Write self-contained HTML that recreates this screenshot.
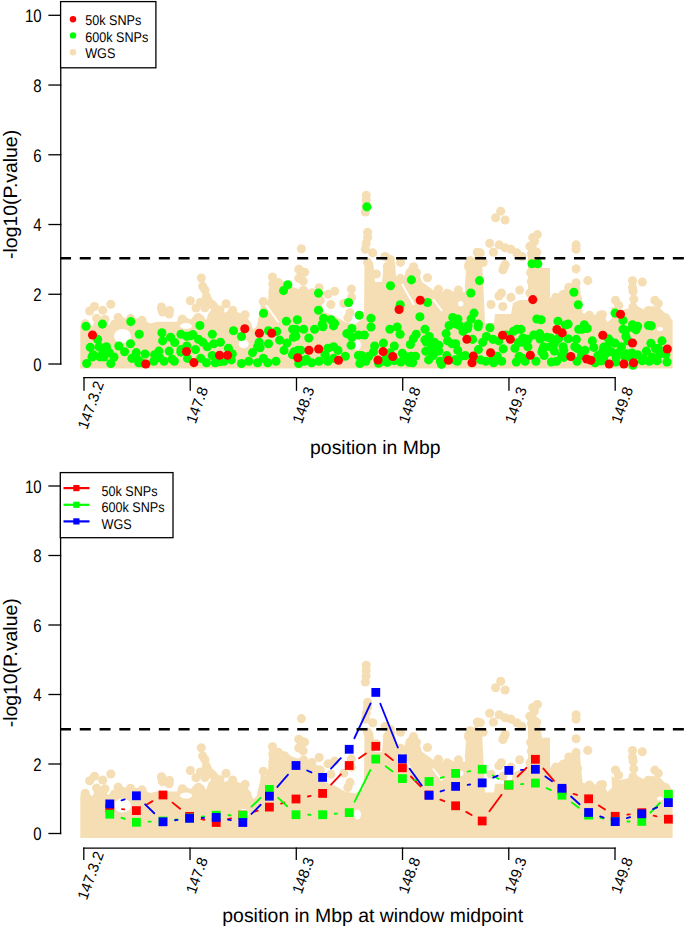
<!DOCTYPE html>
<html><head><meta charset="utf-8"><title>plot</title>
<style>html,body{margin:0;padding:0;background:#fff;width:685px;height:928px;overflow:hidden}svg{display:block} text{text-rendering:geometricPrecision}</style>
</head><body>
<svg width="685" height="928" viewBox="0 0 685 928">
<rect width="685" height="928" fill="#fff"/>
<g id="top-data"><g fill="#f5deb3"><polygon points="80.3,368.5 80.3,325.4 85.5,321.9 92.5,326.6 96,317.3 104.2,317.3 107.7,325.4 112.4,322.5 118.2,315.5 126.4,318.4 132.2,317.3 142.7,319.6 150,323.4 157,321.8 177,321.8 178,318.3 185,317.1 191,319.4 194.4,314.8 199,313.6 203.7,315.9 206,320.6 208.4,313.6 215.4,312.4 224.8,312.4 230,310.1 236.7,311.8 244.9,315.3 250.7,322.3 253,329.3 256.5,327.0 260,311.8 261.2,303.6 265.3,306.5 268.2,298.9 269.4,281.4 272.9,275.6 276.4,280.3 286.9,282.0 291.6,287.3 295,288.0 306,291.0 309,294.0 320,296.0 322,305.0 324,312.0 335,316.0 345,322.0 355,324.0 364,318.0 364.5,262.0 373,262.0 374,270.0 375,282.0 382,282.0 384,264.0 385,262.0 390,260.0 395,262.0 396,276.0 404,278.0 406,270.0 412,264.0 418,270.0 422,282.0 429,287.0 436,292.0 465,292.0 466,270.0 470,262.0 476,255.0 482,262.0 484,300.0 485,323.0 494,323.0 495,314.0 511,314.0 513,303.0 520,300.0 528,300.0 528,255.0 540,255.0 542,268.0 550,268.0 550,298.0 556,294.7 561.5,292.0 566.8,286.8 576,281.5 580,285.5 581.2,300.0 582.6,313.1 587.8,314.4 601,315.0 604,316.0 607.5,322.3 612,318.0 611.5,306.5 620,310.4 630,308.0 635,305.0 645,310.0 652,306.0 660,308.0 666,314.0 672.6,320.0 672.6,368.5"/><circle cx="110.8" cy="304.3" r="4.55"/><circle cx="94.5" cy="306.5" r="4.55"/><circle cx="89.6" cy="311.0" r="4.55"/><circle cx="102.7" cy="310.3" r="4.55"/><circle cx="96.6" cy="318.4" r="4.55"/><circle cx="105.0" cy="319.2" r="4.55"/><circle cx="85.2" cy="323.7" r="4.55"/><circle cx="118.1" cy="317.6" r="4.55"/><circle cx="114.4" cy="324.4" r="4.55"/><circle cx="130.5" cy="318.6" r="4.55"/><circle cx="142.0" cy="320.2" r="4.55"/><circle cx="161.5" cy="307.0" r="4.55"/><circle cx="169.5" cy="310.5" r="4.55"/><circle cx="162.6" cy="312.0" r="4.55"/><circle cx="169.2" cy="314.0" r="4.55"/><circle cx="201.3" cy="278.0" r="4.55"/><circle cx="202.7" cy="286.2" r="4.55"/><circle cx="204.9" cy="289.9" r="4.55"/><circle cx="206.4" cy="296.4" r="4.55"/><circle cx="190.3" cy="300.8" r="4.55"/><circle cx="200.5" cy="302.3" r="4.55"/><circle cx="210.8" cy="303.7" r="4.55"/><circle cx="226.1" cy="303.7" r="4.55"/><circle cx="232.7" cy="310.3" r="4.55"/><circle cx="263.3" cy="301.5" r="4.55"/><circle cx="272.5" cy="277.0" r="4.55"/><circle cx="272.8" cy="284.0" r="4.55"/><circle cx="273.0" cy="292.0" r="4.55"/><circle cx="271.4" cy="305.9" r="4.55"/><circle cx="182.3" cy="319.0" r="4.55"/><circle cx="198.4" cy="317.6" r="4.55"/><circle cx="213.0" cy="314.7" r="4.55"/><circle cx="218.8" cy="313.9" r="4.55"/><circle cx="245.1" cy="314.7" r="4.55"/><circle cx="262.6" cy="320.5" r="4.55"/><circle cx="278.4" cy="282.6" r="4.55"/><circle cx="301.4" cy="248.7" r="4.55"/><circle cx="298.8" cy="269.4" r="4.55"/><circle cx="304.6" cy="272.3" r="4.55"/><circle cx="298.8" cy="278.2" r="4.55"/><circle cx="303.2" cy="281.1" r="4.55"/><circle cx="291.5" cy="291.3" r="4.55"/><circle cx="301.0" cy="292.8" r="4.55"/><circle cx="311.9" cy="292.8" r="4.55"/><circle cx="319.2" cy="287.7" r="4.55"/><circle cx="328.0" cy="294.2" r="4.55"/><circle cx="334.6" cy="291.3" r="4.55"/><circle cx="351.4" cy="289.1" r="4.55"/><circle cx="330.9" cy="304.5" r="4.55"/><circle cx="300.5" cy="271.0" r="4.55"/><circle cx="366.2" cy="195.2" r="4.55"/><circle cx="366.2" cy="200.3" r="4.55"/><circle cx="365.4" cy="212.0" r="4.55"/><circle cx="366.0" cy="206.0" r="4.55"/><circle cx="367.6" cy="232.4" r="4.55"/><circle cx="367.6" cy="237.6" r="4.55"/><circle cx="366.2" cy="243.4" r="4.55"/><circle cx="365.4" cy="249.2" r="4.55"/><circle cx="372.7" cy="252.9" r="4.55"/><circle cx="367.6" cy="262.4" r="4.55"/><circle cx="385.1" cy="256.5" r="4.55"/><circle cx="390.3" cy="259.5" r="4.55"/><circle cx="400.5" cy="262.4" r="4.55"/><circle cx="387.3" cy="266.8" r="4.55"/><circle cx="376.4" cy="274.0" r="4.55"/><circle cx="413.6" cy="266.8" r="4.55"/><circle cx="416.5" cy="272.6" r="4.55"/><circle cx="427.5" cy="277.7" r="4.55"/><circle cx="400.5" cy="278.4" r="4.55"/><circle cx="438.4" cy="289.4" r="4.55"/><circle cx="351.6" cy="297.4" r="4.55"/><circle cx="500.7" cy="211.3" r="4.55"/><circle cx="495.6" cy="217.8" r="4.55"/><circle cx="505.1" cy="220.0" r="4.55"/><circle cx="489.7" cy="243.4" r="4.55"/><circle cx="493.4" cy="252.2" r="4.55"/><circle cx="499.2" cy="244.9" r="4.55"/><circle cx="505.1" cy="247.8" r="4.55"/><circle cx="510.9" cy="249.2" r="4.55"/><circle cx="516.8" cy="252.9" r="4.55"/><circle cx="521.9" cy="256.5" r="4.55"/><circle cx="477.3" cy="252.2" r="4.55"/><circle cx="480.3" cy="252.9" r="4.55"/><circle cx="470.0" cy="260.9" r="4.55"/><circle cx="483.2" cy="262.4" r="4.55"/><circle cx="468.6" cy="265.3" r="4.55"/><circle cx="474.4" cy="271.1" r="4.55"/><circle cx="470.0" cy="278.4" r="4.55"/><circle cx="469.3" cy="285.7" r="4.55"/><circle cx="505.1" cy="264.6" r="4.55"/><circle cx="502.9" cy="269.7" r="4.55"/><circle cx="532.8" cy="237.6" r="4.55"/><circle cx="529.9" cy="246.3" r="4.55"/><circle cx="530.6" cy="272.6" r="4.55"/><circle cx="531.4" cy="281.4" r="4.55"/><circle cx="529.9" cy="293.0" r="4.55"/><circle cx="449.6" cy="294.5" r="4.55"/><circle cx="458.4" cy="290.1" r="4.55"/><circle cx="478.8" cy="290.1" r="4.55"/><circle cx="501.4" cy="293.0" r="4.55"/><circle cx="519.7" cy="290.1" r="4.55"/><circle cx="510.9" cy="297.4" r="4.55"/><circle cx="537.4" cy="234.6" r="4.55"/><circle cx="534.5" cy="241.2" r="4.55"/><circle cx="532.3" cy="247.8" r="4.55"/><circle cx="536.7" cy="252.2" r="4.55"/><circle cx="531.6" cy="253.6" r="4.55"/><circle cx="576.1" cy="244.9" r="4.55"/><circle cx="576.1" cy="249.2" r="4.55"/><circle cx="576.1" cy="268.9" r="4.55"/><circle cx="587.8" cy="280.6" r="4.55"/><circle cx="576.1" cy="282.8" r="4.55"/><circle cx="568.8" cy="287.2" r="4.55"/><circle cx="577.6" cy="298.9" r="4.55"/><circle cx="563.0" cy="294.5" r="4.55"/><circle cx="555.7" cy="297.4" r="4.55"/><circle cx="615.5" cy="300.3" r="4.55"/><circle cx="545.4" cy="272.6" r="4.55"/><circle cx="545.4" cy="278.4" r="4.55"/><circle cx="545.4" cy="287.2" r="4.55"/><circle cx="545.4" cy="300.3" r="4.55"/><circle cx="632.5" cy="280.7" r="4.55"/><circle cx="632.5" cy="287.3" r="4.55"/><circle cx="633.1" cy="291.2" r="4.55"/><circle cx="633.8" cy="299.1" r="4.55"/><circle cx="642.3" cy="282.0" r="4.55"/><circle cx="654.8" cy="300.4" r="4.55"/><circle cx="633.0" cy="307.0" r="4.55"/><circle cx="618.6" cy="305.5" r="4.55"/><circle cx="658.3" cy="303.6" r="4.55"/><circle cx="602.5" cy="314.8" r="4.55"/><circle cx="648.4" cy="310.5" r="4.55"/><circle cx="665.8" cy="317.9" r="4.55"/><circle cx="589.4" cy="315.3" r="4.55"/><circle cx="600.4" cy="315.3" r="4.55"/><circle cx="213.1" cy="305.4" r="4.55"/><circle cx="204.9" cy="307.8" r="4.55"/><circle cx="161.7" cy="308.9" r="4.55"/><circle cx="303.5" cy="290.1" r="4.55"/><circle cx="320.3" cy="300.4" r="4.55"/><circle cx="343.8" cy="303.5" r="4.55"/><circle cx="350.0" cy="312.7" r="4.55"/><circle cx="347.9" cy="317.8" r="4.55"/><circle cx="387.5" cy="269.9" r="4.55"/><circle cx="447.1" cy="293.2" r="4.55"/><circle cx="471.3" cy="263.1" r="4.55"/><circle cx="468.7" cy="267.1" r="4.55"/><circle cx="470.0" cy="281.5" r="4.55"/><circle cx="504.1" cy="267.1" r="4.55"/><circle cx="498.9" cy="296.0" r="4.55"/><circle cx="491.0" cy="304.5" r="4.55"/><circle cx="502.8" cy="306.5" r="4.55"/><circle cx="208.0" cy="300.0" r="4.55"/><circle cx="215.0" cy="308.0" r="4.55"/><circle cx="196.0" cy="308.0" r="4.55"/><circle cx="220.0" cy="310.0" r="4.55"/></g><line x1="266" y1="305" x2="278.5" y2="322.5" stroke="#fff" stroke-width="1.8"/><line x1="402" y1="284.0" x2="414" y2="305.0" stroke="#fff" stroke-width="2"/><line x1="433" y1="299.0" x2="442" y2="311.0" stroke="#fff" stroke-width="2"/><g fill="#fff"><ellipse cx="122.5" cy="336.0" rx="8.5" ry="7"/><ellipse cx="186" cy="326.0" rx="6" ry="3"/><ellipse cx="243.7" cy="343.8" rx="5" ry="4.4"/><ellipse cx="357.5" cy="345.0" rx="3.5" ry="5"/><ellipse cx="660" cy="329.0" rx="3" ry="2"/><ellipse cx="460.7" cy="303.7" rx="2.7" ry="2.7"/></g>
<g fill="#00ff00"><circle cx="366.9" cy="206.9" r="4.55"/><circle cx="390.5" cy="285.7" r="4.55"/><circle cx="411.4" cy="279.9" r="4.55"/><circle cx="348.6" cy="302.5" r="4.55"/><circle cx="400.2" cy="304.7" r="4.55"/><circle cx="427.5" cy="302.5" r="4.55"/><circle cx="479.5" cy="280.6" r="4.55"/><circle cx="470.8" cy="293.0" r="4.55"/><circle cx="532.0" cy="263.8" r="4.55"/><circle cx="537.8" cy="263.8" r="4.55"/><circle cx="573.9" cy="292.3" r="4.55"/><circle cx="578.3" cy="304.7" r="4.55"/><circle cx="287.8" cy="284.7" r="4.55"/><circle cx="283.5" cy="290.6" r="4.55"/><circle cx="318.5" cy="293.1" r="4.55"/><circle cx="318.5" cy="310.3" r="4.55"/><circle cx="263.5" cy="313.2" r="4.55"/><circle cx="286.4" cy="321.2" r="4.55"/><circle cx="297.3" cy="319.8" r="4.55"/><circle cx="323.6" cy="318.3" r="4.55"/><circle cx="330.9" cy="319.8" r="4.55"/><circle cx="334.6" cy="323.4" r="4.55"/><circle cx="322.2" cy="324.2" r="4.55"/><circle cx="86.0" cy="326.3" r="4.55"/><circle cx="102.4" cy="324.1" r="4.55"/><circle cx="130.8" cy="321.6" r="4.55"/><circle cx="139.2" cy="334.3" r="4.55"/><circle cx="161.9" cy="332.8" r="4.55"/><circle cx="170.6" cy="337.2" r="4.55"/><circle cx="162.6" cy="340.9" r="4.55"/><circle cx="97.6" cy="339.4" r="4.55"/><circle cx="90.3" cy="347.4" r="4.55"/><circle cx="99.1" cy="346.7" r="4.55"/><circle cx="106.4" cy="346.7" r="4.55"/><circle cx="109.3" cy="352.6" r="4.55"/><circle cx="93.2" cy="354.7" r="4.55"/><circle cx="99.8" cy="356.9" r="4.55"/><circle cx="86.7" cy="363.5" r="4.55"/><circle cx="110.8" cy="363.5" r="4.55"/><circle cx="104.0" cy="357.0" r="4.55"/><circle cx="118.8" cy="346.0" r="4.55"/><circle cx="124.6" cy="351.8" r="4.55"/><circle cx="130.5" cy="343.8" r="4.55"/><circle cx="131.9" cy="358.4" r="4.55"/><circle cx="137.8" cy="359.9" r="4.55"/><circle cx="136.3" cy="352.6" r="4.55"/><circle cx="145.1" cy="354.0" r="4.55"/><circle cx="141.4" cy="362.8" r="4.55"/><circle cx="154.6" cy="354.7" r="4.55"/><circle cx="158.9" cy="351.1" r="4.55"/><circle cx="153.8" cy="361.3" r="4.55"/><circle cx="164.1" cy="361.3" r="4.55"/><circle cx="169.2" cy="351.1" r="4.55"/><circle cx="172.1" cy="359.1" r="4.55"/><circle cx="159.7" cy="357.7" r="4.55"/><circle cx="199.9" cy="325.5" r="4.55"/><circle cx="212.3" cy="334.3" r="4.55"/><circle cx="233.5" cy="330.7" r="4.55"/><circle cx="241.5" cy="336.5" r="4.55"/><circle cx="259.1" cy="342.3" r="4.55"/><circle cx="257.6" cy="346.7" r="4.55"/><circle cx="252.5" cy="352.6" r="4.55"/><circle cx="268.5" cy="343.8" r="4.55"/><circle cx="181.0" cy="334.3" r="4.55"/><circle cx="190.4" cy="335.8" r="4.55"/><circle cx="198.5" cy="339.4" r="4.55"/><circle cx="202.8" cy="342.3" r="4.55"/><circle cx="207.2" cy="346.7" r="4.55"/><circle cx="213.8" cy="343.8" r="4.55"/><circle cx="220.4" cy="342.3" r="4.55"/><circle cx="181.0" cy="349.6" r="4.55"/><circle cx="195.5" cy="349.6" r="4.55"/><circle cx="174.4" cy="361.3" r="4.55"/><circle cx="187.5" cy="358.4" r="4.55"/><circle cx="200.7" cy="358.4" r="4.55"/><circle cx="206.5" cy="362.8" r="4.55"/><circle cx="212.3" cy="355.5" r="4.55"/><circle cx="215.3" cy="362.8" r="4.55"/><circle cx="228.4" cy="348.2" r="4.55"/><circle cx="231.3" cy="359.9" r="4.55"/><circle cx="224.0" cy="361.3" r="4.55"/><circle cx="241.5" cy="363.5" r="4.55"/><circle cx="248.8" cy="361.3" r="4.55"/><circle cx="257.6" cy="362.8" r="4.55"/><circle cx="263.4" cy="358.4" r="4.55"/><circle cx="267.8" cy="362.8" r="4.55"/><circle cx="268.5" cy="330.7" r="4.55"/><circle cx="359.2" cy="315.3" r="4.55"/><circle cx="314.6" cy="329.2" r="4.55"/><circle cx="303.7" cy="329.2" r="4.55"/><circle cx="292.7" cy="329.2" r="4.55"/><circle cx="276.7" cy="331.4" r="4.55"/><circle cx="293.5" cy="337.2" r="4.55"/><circle cx="308.8" cy="338.0" r="4.55"/><circle cx="279.6" cy="340.1" r="4.55"/><circle cx="286.9" cy="343.1" r="4.55"/><circle cx="284.0" cy="350.4" r="4.55"/><circle cx="294.2" cy="351.8" r="4.55"/><circle cx="300.8" cy="350.4" r="4.55"/><circle cx="346.8" cy="333.6" r="4.55"/><circle cx="351.9" cy="328.5" r="4.55"/><circle cx="358.4" cy="335.0" r="4.55"/><circle cx="351.1" cy="345.3" r="4.55"/><circle cx="327.8" cy="348.2" r="4.55"/><circle cx="333.6" cy="346.7" r="4.55"/><circle cx="338.0" cy="350.4" r="4.55"/><circle cx="324.9" cy="354.7" r="4.55"/><circle cx="345.3" cy="356.2" r="4.55"/><circle cx="358.4" cy="355.5" r="4.55"/><circle cx="276.0" cy="361.3" r="4.55"/><circle cx="301.5" cy="360.6" r="4.55"/><circle cx="311.7" cy="362.8" r="4.55"/><circle cx="319.0" cy="361.3" r="4.55"/><circle cx="327.8" cy="361.3" r="4.55"/><circle cx="333.6" cy="358.4" r="4.55"/><circle cx="359.9" cy="363.5" r="4.55"/><circle cx="363.5" cy="359.9" r="4.55"/><circle cx="304.4" cy="361.3" r="4.55"/><circle cx="419.9" cy="316.8" r="4.55"/><circle cx="371.0" cy="318.2" r="4.55"/><circle cx="371.0" cy="327.0" r="4.55"/><circle cx="364.4" cy="335.0" r="4.55"/><circle cx="389.9" cy="329.2" r="4.55"/><circle cx="397.2" cy="327.0" r="4.55"/><circle cx="400.1" cy="334.3" r="4.55"/><circle cx="425.0" cy="329.2" r="4.55"/><circle cx="416.2" cy="334.3" r="4.55"/><circle cx="413.3" cy="338.7" r="4.55"/><circle cx="410.4" cy="344.5" r="4.55"/><circle cx="429.3" cy="336.5" r="4.55"/><circle cx="426.4" cy="342.3" r="4.55"/><circle cx="452.7" cy="317.5" r="4.55"/><circle cx="449.1" cy="325.5" r="4.55"/><circle cx="456.4" cy="324.1" r="4.55"/><circle cx="446.1" cy="333.6" r="4.55"/><circle cx="447.6" cy="340.9" r="4.55"/><circle cx="452.0" cy="343.8" r="4.55"/><circle cx="438.8" cy="345.3" r="4.55"/><circle cx="434.5" cy="342.3" r="4.55"/><circle cx="383.4" cy="343.1" r="4.55"/><circle cx="374.6" cy="346.0" r="4.55"/><circle cx="394.3" cy="346.0" r="4.55"/><circle cx="457.8" cy="350.4" r="4.55"/><circle cx="361.5" cy="355.5" r="4.55"/><circle cx="368.8" cy="356.2" r="4.55"/><circle cx="386.3" cy="354.7" r="4.55"/><circle cx="402.3" cy="353.3" r="4.55"/><circle cx="415.5" cy="356.2" r="4.55"/><circle cx="409.6" cy="359.1" r="4.55"/><circle cx="400.9" cy="362.0" r="4.55"/><circle cx="365.8" cy="361.3" r="4.55"/><circle cx="383.4" cy="361.3" r="4.55"/><circle cx="428.6" cy="359.9" r="4.55"/><circle cx="433.0" cy="355.5" r="4.55"/><circle cx="440.3" cy="361.3" r="4.55"/><circle cx="438.8" cy="351.1" r="4.55"/><circle cx="454.9" cy="359.9" r="4.55"/><circle cx="430.1" cy="350.4" r="4.55"/><circle cx="474.0" cy="313.1" r="4.55"/><circle cx="471.1" cy="319.0" r="4.55"/><circle cx="457.9" cy="319.0" r="4.55"/><circle cx="459.4" cy="325.5" r="4.55"/><circle cx="468.1" cy="325.5" r="4.55"/><circle cx="478.4" cy="324.1" r="4.55"/><circle cx="463.0" cy="331.4" r="4.55"/><circle cx="490.0" cy="327.7" r="4.55"/><circle cx="472.5" cy="339.4" r="4.55"/><circle cx="486.4" cy="336.5" r="4.55"/><circle cx="482.7" cy="342.3" r="4.55"/><circle cx="493.0" cy="339.4" r="4.55"/><circle cx="498.8" cy="340.9" r="4.55"/><circle cx="536.8" cy="319.0" r="4.55"/><circle cx="541.1" cy="319.7" r="4.55"/><circle cx="517.0" cy="329.2" r="4.55"/><circle cx="513.4" cy="331.4" r="4.55"/><circle cx="506.1" cy="335.0" r="4.55"/><circle cx="533.8" cy="335.0" r="4.55"/><circle cx="539.7" cy="333.6" r="4.55"/><circle cx="547.0" cy="337.2" r="4.55"/><circle cx="528.0" cy="339.4" r="4.55"/><circle cx="522.2" cy="342.3" r="4.55"/><circle cx="514.9" cy="348.2" r="4.55"/><circle cx="503.2" cy="348.9" r="4.55"/><circle cx="478.4" cy="349.6" r="4.55"/><circle cx="542.6" cy="349.6" r="4.55"/><circle cx="549.9" cy="346.7" r="4.55"/><circle cx="460.8" cy="356.2" r="4.55"/><circle cx="455.7" cy="343.8" r="4.55"/><circle cx="480.5" cy="359.9" r="4.55"/><circle cx="493.0" cy="358.4" r="4.55"/><circle cx="497.3" cy="356.2" r="4.55"/><circle cx="501.7" cy="361.3" r="4.55"/><circle cx="493.7" cy="362.8" r="4.55"/><circle cx="516.3" cy="362.0" r="4.55"/><circle cx="519.2" cy="356.2" r="4.55"/><circle cx="525.1" cy="361.3" r="4.55"/><circle cx="536.0" cy="361.3" r="4.55"/><circle cx="544.1" cy="355.5" r="4.55"/><circle cx="551.4" cy="362.0" r="4.55"/><circle cx="457.2" cy="361.3" r="4.55"/><circle cx="485.7" cy="361.3" r="4.55"/><circle cx="615.0" cy="313.1" r="4.55"/><circle cx="623.0" cy="320.4" r="4.55"/><circle cx="558.0" cy="321.2" r="4.55"/><circle cx="568.2" cy="324.1" r="4.55"/><circle cx="584.3" cy="324.8" r="4.55"/><circle cx="582.1" cy="329.2" r="4.55"/><circle cx="587.2" cy="328.5" r="4.55"/><circle cx="623.0" cy="329.2" r="4.55"/><circle cx="632.5" cy="324.8" r="4.55"/><circle cx="637.6" cy="326.3" r="4.55"/><circle cx="636.1" cy="329.9" r="4.55"/><circle cx="648.5" cy="325.5" r="4.55"/><circle cx="625.9" cy="336.5" r="4.55"/><circle cx="550.7" cy="338.0" r="4.55"/><circle cx="558.8" cy="338.0" r="4.55"/><circle cx="568.2" cy="338.7" r="4.55"/><circle cx="576.3" cy="339.4" r="4.55"/><circle cx="592.3" cy="340.9" r="4.55"/><circle cx="608.4" cy="338.7" r="4.55"/><circle cx="615.0" cy="343.1" r="4.55"/><circle cx="621.5" cy="346.7" r="4.55"/><circle cx="554.4" cy="343.8" r="4.55"/><circle cx="563.1" cy="346.7" r="4.55"/><circle cx="574.8" cy="346.7" r="4.55"/><circle cx="585.0" cy="350.4" r="4.55"/><circle cx="593.8" cy="347.4" r="4.55"/><circle cx="606.9" cy="346.7" r="4.55"/><circle cx="602.6" cy="351.8" r="4.55"/><circle cx="611.3" cy="351.8" r="4.55"/><circle cx="618.6" cy="352.6" r="4.55"/><circle cx="554.4" cy="351.1" r="4.55"/><circle cx="561.7" cy="355.5" r="4.55"/><circle cx="556.6" cy="361.3" r="4.55"/><circle cx="577.0" cy="361.3" r="4.55"/><circle cx="598.2" cy="359.9" r="4.55"/><circle cx="615.7" cy="362.0" r="4.55"/><circle cx="627.4" cy="356.9" r="4.55"/><circle cx="637.6" cy="354.7" r="4.55"/><circle cx="643.4" cy="358.4" r="4.55"/><circle cx="646.4" cy="351.1" r="4.55"/><circle cx="649.3" cy="361.3" r="4.55"/><circle cx="581.4" cy="355.5" r="4.55"/><circle cx="627.9" cy="340.9" r="4.55"/><circle cx="609.9" cy="340.9" r="4.55"/><circle cx="650.9" cy="343.3" r="4.55"/><circle cx="662.0" cy="340.9" r="4.55"/><circle cx="658.3" cy="348.3" r="4.55"/><circle cx="665.8" cy="354.5" r="4.55"/><circle cx="603.7" cy="347.1" r="4.55"/><circle cx="603.7" cy="359.5" r="4.55"/><circle cx="616.1" cy="357.0" r="4.55"/><circle cx="624.8" cy="357.6" r="4.55"/><circle cx="652.1" cy="357.0" r="4.55"/><circle cx="667.0" cy="362.0" r="4.55"/><circle cx="642.2" cy="360.7" r="4.55"/><circle cx="657.1" cy="360.7" r="4.55"/><circle cx="373.4" cy="351.9" r="4.55"/><circle cx="378.6" cy="363.3" r="4.55"/><circle cx="387.4" cy="362.4" r="4.55"/><circle cx="394.4" cy="360.6" r="4.55"/><circle cx="404.0" cy="355.4" r="4.55"/><circle cx="411.0" cy="356.3" r="4.55"/><circle cx="409.3" cy="362.4" r="4.55"/><circle cx="390.0" cy="352.8" r="4.55"/><circle cx="424.9" cy="339.9" r="4.55"/><circle cx="425.8" cy="351.3" r="4.55"/><circle cx="432.8" cy="346.9" r="4.55"/><circle cx="412.6" cy="362.7" r="4.55"/><circle cx="441.5" cy="364.4" r="4.55"/><circle cx="446.8" cy="355.6" r="4.55"/><circle cx="467.6" cy="328.5" r="4.55"/><circle cx="478.1" cy="326.8" r="4.55"/><circle cx="518.4" cy="342.5" r="4.55"/><circle cx="522.8" cy="338.1" r="4.55"/><circle cx="465.4" cy="355.6" r="4.55"/><circle cx="520.9" cy="329.4" r="4.55"/><circle cx="525.3" cy="339.0" r="4.55"/><circle cx="540.1" cy="339.0" r="4.55"/><circle cx="527.9" cy="346.9" r="4.55"/><circle cx="543.6" cy="346.9" r="4.55"/><circle cx="541.9" cy="352.1" r="4.55"/><circle cx="556.8" cy="339.9" r="4.55"/><circle cx="563.8" cy="350.4" r="4.55"/><circle cx="563.8" cy="357.4" r="4.55"/><circle cx="522.6" cy="358.3" r="4.55"/><circle cx="565.5" cy="325.0" r="4.55"/><circle cx="578.7" cy="329.4" r="4.55"/><circle cx="632.8" cy="327.6" r="4.55"/><circle cx="577.6" cy="348.6" r="4.55"/><circle cx="597.8" cy="355.6" r="4.55"/><circle cx="605.6" cy="353.9" r="4.55"/><circle cx="626.7" cy="353.9" r="4.55"/><circle cx="631.9" cy="353.0" r="4.55"/><circle cx="595.1" cy="362.7" r="4.55"/><circle cx="601.3" cy="360.9" r="4.55"/><circle cx="651.3" cy="325.9" r="4.55"/><circle cx="625.9" cy="330.3" r="4.55"/><circle cx="655.6" cy="348.6" r="4.55"/><circle cx="630.3" cy="356.5" r="4.55"/><circle cx="660.0" cy="353.9" r="4.55"/><circle cx="632.9" cy="365.3" r="4.55"/><circle cx="323.0" cy="326.8" r="4.55"/><circle cx="333.5" cy="325.9" r="4.55"/><circle cx="295.9" cy="329.4" r="4.55"/><circle cx="295.9" cy="336.4" r="4.55"/><circle cx="351.9" cy="337.3" r="4.55"/><circle cx="306.4" cy="359.2" r="4.55"/><circle cx="260.1" cy="347.8" r="4.55"/><circle cx="292.5" cy="354.8" r="4.55"/><circle cx="297.8" cy="350.4" r="4.55"/><circle cx="298.7" cy="363.5" r="4.55"/><circle cx="186.8" cy="336.4" r="4.55"/><circle cx="192.9" cy="334.6" r="4.55"/><circle cx="186.8" cy="346.0" r="4.55"/><circle cx="232.3" cy="353.9" r="4.55"/><circle cx="220.0" cy="361.8" r="4.55"/><circle cx="174.7" cy="342.5" r="4.55"/><circle cx="180.8" cy="352.1" r="4.55"/><circle cx="138.8" cy="362.7" r="4.55"/><circle cx="103.0" cy="352.0" r="4.55"/><circle cx="92.0" cy="357.0" r="4.55"/><circle cx="114.0" cy="357.0" r="4.55"/></g><g fill="#ff0000"><circle cx="420.2" cy="300.3" r="4.55"/><circle cx="532.8" cy="299.6" r="4.55"/><circle cx="399.1" cy="309.5" r="4.55"/><circle cx="620.5" cy="314.3" r="4.55"/><circle cx="92.5" cy="335.0" r="4.55"/><circle cx="145.8" cy="364.0" r="4.55"/><circle cx="244.8" cy="328.8" r="4.55"/><circle cx="259.4" cy="333.3" r="4.55"/><circle cx="271.7" cy="333.3" r="4.55"/><circle cx="186.5" cy="351.5" r="4.55"/><circle cx="193.9" cy="362.6" r="4.55"/><circle cx="219.6" cy="355.3" r="4.55"/><circle cx="227.6" cy="355.3" r="4.55"/><circle cx="297.8" cy="357.7" r="4.55"/><circle cx="309.0" cy="350.2" r="4.55"/><circle cx="318.7" cy="349.0" r="4.55"/><circle cx="338.5" cy="360.3" r="4.55"/><circle cx="383.1" cy="351.6" r="4.55"/><circle cx="392.8" cy="356.5" r="4.55"/><circle cx="378.0" cy="360.0" r="4.55"/><circle cx="448.4" cy="360.2" r="4.55"/><circle cx="466.9" cy="339.2" r="4.55"/><circle cx="502.6" cy="335.3" r="4.55"/><circle cx="510.3" cy="339.2" r="4.55"/><circle cx="490.6" cy="352.7" r="4.55"/><circle cx="473.3" cy="356.1" r="4.55"/><circle cx="472.0" cy="362.7" r="4.55"/><circle cx="530.3" cy="355.2" r="4.55"/><circle cx="556.9" cy="329.5" r="4.55"/><circle cx="562.2" cy="332.9" r="4.55"/><circle cx="602.8" cy="335.3" r="4.55"/><circle cx="632.5" cy="343.0" r="4.55"/><circle cx="570.8" cy="356.5" r="4.55"/><circle cx="586.7" cy="359.0" r="4.55"/><circle cx="590.9" cy="360.3" r="4.55"/><circle cx="609.2" cy="364.0" r="4.55"/><circle cx="623.9" cy="364.0" r="4.55"/><circle cx="633.6" cy="362.7" r="4.55"/><circle cx="667.3" cy="349.0" r="4.55"/></g></g>
<g id="bot-data"><g fill="#f5deb3"><polygon points="80.3,838.0 80.3,795.0 85.5,791.5 92.5,796.2 96,787.0 104.2,787.0 107.7,795.0 112.4,792.1 118.2,785.2 126.4,788.1 132.2,787.0 142.7,789.3 150,793.0 157,791.4 177,791.4 178,788.0 185,786.8 191,789.1 194.4,784.5 199,783.3 203.7,785.6 206,790.2 208.4,783.3 215.4,782.1 224.8,782.1 230,779.8 236.7,781.5 244.9,785.0 250.7,791.9 253,798.9 256.5,796.6 260,781.5 261.2,773.3 265.3,776.2 268.2,768.6 269.4,751.2 272.9,745.4 276.4,750.1 286.9,751.8 291.6,757.1 295,757.8 306,760.8 309,763.7 320,765.7 322,774.7 324,781.7 335,785.7 345,791.6 355,793.6 364,787.7 364.5,731.9 373,731.9 374,739.8 375,751.8 382,751.8 384,733.8 385,731.9 390,729.9 395,731.9 396,745.8 404,747.8 406,739.8 412,733.8 418,739.8 422,751.8 429,756.8 436,761.7 465,761.7 466,739.8 470,731.9 476,724.9 482,731.9 484,769.7 485,792.6 494,792.6 495,783.7 511,783.7 513,772.7 520,769.7 528,769.7 528,724.9 540,724.9 542,737.8 550,737.8 550,767.7 556,764.4 561.5,761.7 566.8,756.6 576,751.3 580,755.3 581.2,769.7 582.6,782.8 587.8,784.1 601,784.7 604,785.7 607.5,791.9 612,787.7 611.5,776.2 620,780.1 630,777.7 635,774.7 645,779.7 652,775.7 660,777.7 666,783.7 672.6,789.7 672.6,838.0"/><circle cx="110.8" cy="774.0" r="4.55"/><circle cx="94.5" cy="776.2" r="4.55"/><circle cx="89.6" cy="780.7" r="4.55"/><circle cx="102.7" cy="780.0" r="4.55"/><circle cx="96.6" cy="788.1" r="4.55"/><circle cx="105.0" cy="788.9" r="4.55"/><circle cx="85.2" cy="793.3" r="4.55"/><circle cx="118.1" cy="787.3" r="4.55"/><circle cx="114.4" cy="794.0" r="4.55"/><circle cx="130.5" cy="788.3" r="4.55"/><circle cx="142.0" cy="789.9" r="4.55"/><circle cx="161.5" cy="776.7" r="4.55"/><circle cx="169.5" cy="780.2" r="4.55"/><circle cx="162.6" cy="781.7" r="4.55"/><circle cx="169.2" cy="783.7" r="4.55"/><circle cx="201.3" cy="747.8" r="4.55"/><circle cx="202.7" cy="756.0" r="4.55"/><circle cx="204.9" cy="759.7" r="4.55"/><circle cx="206.4" cy="766.1" r="4.55"/><circle cx="190.3" cy="770.5" r="4.55"/><circle cx="200.5" cy="772.0" r="4.55"/><circle cx="210.8" cy="773.4" r="4.55"/><circle cx="226.1" cy="773.4" r="4.55"/><circle cx="232.7" cy="780.0" r="4.55"/><circle cx="263.3" cy="771.2" r="4.55"/><circle cx="272.5" cy="746.8" r="4.55"/><circle cx="272.8" cy="753.8" r="4.55"/><circle cx="273.0" cy="761.7" r="4.55"/><circle cx="271.4" cy="775.6" r="4.55"/><circle cx="182.3" cy="788.7" r="4.55"/><circle cx="198.4" cy="787.3" r="4.55"/><circle cx="213.0" cy="784.4" r="4.55"/><circle cx="218.8" cy="783.6" r="4.55"/><circle cx="245.1" cy="784.4" r="4.55"/><circle cx="262.6" cy="790.1" r="4.55"/><circle cx="278.4" cy="752.4" r="4.55"/><circle cx="301.4" cy="718.6" r="4.55"/><circle cx="298.8" cy="739.2" r="4.55"/><circle cx="304.6" cy="742.1" r="4.55"/><circle cx="298.8" cy="748.0" r="4.55"/><circle cx="303.2" cy="750.9" r="4.55"/><circle cx="291.5" cy="761.1" r="4.55"/><circle cx="301.0" cy="762.5" r="4.55"/><circle cx="311.9" cy="762.5" r="4.55"/><circle cx="319.2" cy="757.5" r="4.55"/><circle cx="328.0" cy="763.9" r="4.55"/><circle cx="334.6" cy="761.1" r="4.55"/><circle cx="351.4" cy="758.9" r="4.55"/><circle cx="330.9" cy="774.2" r="4.55"/><circle cx="300.5" cy="740.8" r="4.55"/><circle cx="366.2" cy="665.3" r="4.55"/><circle cx="366.2" cy="670.4" r="4.55"/><circle cx="365.4" cy="682.0" r="4.55"/><circle cx="366.0" cy="676.0" r="4.55"/><circle cx="367.6" cy="702.4" r="4.55"/><circle cx="367.6" cy="707.5" r="4.55"/><circle cx="366.2" cy="713.3" r="4.55"/><circle cx="365.4" cy="719.1" r="4.55"/><circle cx="372.7" cy="722.8" r="4.55"/><circle cx="367.6" cy="732.2" r="4.55"/><circle cx="385.1" cy="726.4" r="4.55"/><circle cx="390.3" cy="729.4" r="4.55"/><circle cx="400.5" cy="732.2" r="4.55"/><circle cx="387.3" cy="736.6" r="4.55"/><circle cx="376.4" cy="743.8" r="4.55"/><circle cx="413.6" cy="736.6" r="4.55"/><circle cx="416.5" cy="742.4" r="4.55"/><circle cx="427.5" cy="747.5" r="4.55"/><circle cx="400.5" cy="748.2" r="4.55"/><circle cx="438.4" cy="759.2" r="4.55"/><circle cx="351.6" cy="767.1" r="4.55"/><circle cx="500.7" cy="681.3" r="4.55"/><circle cx="495.6" cy="687.8" r="4.55"/><circle cx="505.1" cy="690.0" r="4.55"/><circle cx="489.7" cy="713.3" r="4.55"/><circle cx="493.4" cy="722.1" r="4.55"/><circle cx="499.2" cy="714.8" r="4.55"/><circle cx="505.1" cy="717.7" r="4.55"/><circle cx="510.9" cy="719.1" r="4.55"/><circle cx="516.8" cy="722.8" r="4.55"/><circle cx="521.9" cy="726.4" r="4.55"/><circle cx="477.3" cy="722.1" r="4.55"/><circle cx="480.3" cy="722.8" r="4.55"/><circle cx="470.0" cy="730.8" r="4.55"/><circle cx="483.2" cy="732.2" r="4.55"/><circle cx="468.6" cy="735.1" r="4.55"/><circle cx="474.4" cy="740.9" r="4.55"/><circle cx="470.0" cy="748.2" r="4.55"/><circle cx="469.3" cy="755.5" r="4.55"/><circle cx="505.1" cy="734.4" r="4.55"/><circle cx="502.9" cy="739.5" r="4.55"/><circle cx="532.8" cy="707.5" r="4.55"/><circle cx="529.9" cy="716.2" r="4.55"/><circle cx="530.6" cy="742.4" r="4.55"/><circle cx="531.4" cy="751.2" r="4.55"/><circle cx="529.9" cy="762.7" r="4.55"/><circle cx="449.6" cy="764.2" r="4.55"/><circle cx="458.4" cy="759.9" r="4.55"/><circle cx="478.8" cy="759.9" r="4.55"/><circle cx="501.4" cy="762.7" r="4.55"/><circle cx="519.7" cy="759.9" r="4.55"/><circle cx="510.9" cy="767.1" r="4.55"/><circle cx="537.4" cy="704.5" r="4.55"/><circle cx="534.5" cy="711.1" r="4.55"/><circle cx="532.3" cy="717.7" r="4.55"/><circle cx="536.7" cy="722.1" r="4.55"/><circle cx="531.6" cy="723.5" r="4.55"/><circle cx="576.1" cy="714.8" r="4.55"/><circle cx="576.1" cy="719.1" r="4.55"/><circle cx="576.1" cy="738.7" r="4.55"/><circle cx="587.8" cy="750.4" r="4.55"/><circle cx="576.1" cy="752.6" r="4.55"/><circle cx="568.8" cy="757.0" r="4.55"/><circle cx="577.6" cy="768.6" r="4.55"/><circle cx="563.0" cy="764.2" r="4.55"/><circle cx="555.7" cy="767.1" r="4.55"/><circle cx="615.5" cy="770.0" r="4.55"/><circle cx="545.4" cy="742.4" r="4.55"/><circle cx="545.4" cy="748.2" r="4.55"/><circle cx="545.4" cy="757.0" r="4.55"/><circle cx="545.4" cy="770.0" r="4.55"/><circle cx="632.5" cy="750.5" r="4.55"/><circle cx="632.5" cy="757.1" r="4.55"/><circle cx="633.1" cy="761.0" r="4.55"/><circle cx="633.8" cy="768.8" r="4.55"/><circle cx="642.3" cy="751.8" r="4.55"/><circle cx="654.8" cy="770.1" r="4.55"/><circle cx="633.0" cy="776.7" r="4.55"/><circle cx="618.6" cy="775.2" r="4.55"/><circle cx="658.3" cy="773.3" r="4.55"/><circle cx="602.5" cy="784.5" r="4.55"/><circle cx="648.4" cy="780.2" r="4.55"/><circle cx="665.8" cy="787.6" r="4.55"/><circle cx="589.4" cy="785.0" r="4.55"/><circle cx="600.4" cy="785.0" r="4.55"/><circle cx="213.1" cy="775.1" r="4.55"/><circle cx="204.9" cy="777.5" r="4.55"/><circle cx="161.7" cy="778.6" r="4.55"/><circle cx="303.5" cy="759.9" r="4.55"/><circle cx="320.3" cy="770.1" r="4.55"/><circle cx="343.8" cy="773.2" r="4.55"/><circle cx="350.0" cy="782.4" r="4.55"/><circle cx="347.9" cy="787.5" r="4.55"/><circle cx="387.5" cy="739.7" r="4.55"/><circle cx="447.1" cy="762.9" r="4.55"/><circle cx="471.3" cy="732.9" r="4.55"/><circle cx="468.7" cy="736.9" r="4.55"/><circle cx="470.0" cy="751.3" r="4.55"/><circle cx="504.1" cy="736.9" r="4.55"/><circle cx="498.9" cy="765.7" r="4.55"/><circle cx="491.0" cy="774.2" r="4.55"/><circle cx="502.8" cy="776.2" r="4.55"/><circle cx="208.0" cy="769.7" r="4.55"/><circle cx="215.0" cy="777.7" r="4.55"/><circle cx="196.0" cy="777.7" r="4.55"/><circle cx="220.0" cy="779.7" r="4.55"/></g><line x1="402" y1="753.8" x2="414" y2="774.7" stroke="#fff" stroke-width="2"/><line x1="433" y1="768.7" x2="442" y2="780.7" stroke="#fff" stroke-width="2"/><g fill="#fff"><ellipse cx="122.5" cy="805.6" rx="8.5" ry="7"/><ellipse cx="186" cy="795.6" rx="6" ry="3"/><ellipse cx="243.7" cy="813.4" rx="5" ry="4.4"/><ellipse cx="357.5" cy="814.6" rx="3.5" ry="5"/><ellipse cx="660" cy="798.6" rx="3" ry="2"/><ellipse cx="460.7" cy="773.4" rx="2.7" ry="2.7"/></g>
<g stroke="#ff0000" stroke-width="1.85" stroke-linecap="round"><line x1="121.94" y1="809.19" x2="124.26" y2="809.41"/><line x1="146.92" y1="804.43" x2="152.48" y2="801.17"/><line x1="172.51" y1="802.65" x2="180.09" y2="808.75"/><line x1="201.49" y1="819.13" x2="204.31" y2="819.77"/><line x1="227.95" y1="819.23" x2="231.05" y2="818.37"/><line x1="254.48" y1="811.59" x2="257.72" y2="810.61"/><line x1="281.07" y1="803.55" x2="284.33" y2="802.55"/><line x1="307.94" y1="796.49" x2="310.66" y2="795.91"/><line x1="331.02" y1="784.57" x2="340.78" y2="774.33"/><line x1="359.09" y1="758.36" x2="365.91" y2="753.44"/><line x1="385.29" y1="753.97" x2="392.91" y2="760.13"/><line x1="410.93" y1="776.52" x2="420.47" y2="786.28"/><line x1="440.30" y1="799.59" x2="444.30" y2="801.21"/><line x1="466.19" y1="811.85" x2="471.61" y2="814.95"/><line x1="489.45" y1="811.19" x2="501.55" y2="794.81"/><line x1="517.57" y1="776.52" x2="526.63" y2="767.78"/><line x1="543.39" y1="768.52" x2="554.01" y2="780.78"/><line x1="573.58" y1="793.83" x2="577.02" y2="794.97"/><line x1="598.79" y1="805.51" x2="605.01" y2="809.59"/><line x1="627.29" y1="814.66" x2="629.71" y2="814.34"/><line x1="653.65" y1="815.60" x2="656.55" y2="816.30"/></g><g fill="#ff0000"><rect x="105.40" y="803.60" width="8.8" height="8.8"/><rect x="132.00" y="806.20" width="8.8" height="8.8"/><rect x="158.60" y="790.60" width="8.8" height="8.8"/><rect x="185.20" y="812.00" width="8.8" height="8.8"/><rect x="211.80" y="818.10" width="8.8" height="8.8"/><rect x="238.40" y="810.70" width="8.8" height="8.8"/><rect x="265.00" y="802.70" width="8.8" height="8.8"/><rect x="291.60" y="794.60" width="8.8" height="8.8"/><rect x="318.20" y="789.00" width="8.8" height="8.8"/><rect x="344.80" y="761.10" width="8.8" height="8.8"/><rect x="371.40" y="741.90" width="8.8" height="8.8"/><rect x="398.00" y="763.40" width="8.8" height="8.8"/><rect x="424.60" y="790.60" width="8.8" height="8.8"/><rect x="451.20" y="801.40" width="8.8" height="8.8"/><rect x="477.80" y="816.60" width="8.8" height="8.8"/><rect x="504.40" y="780.60" width="8.8" height="8.8"/><rect x="531.00" y="754.90" width="8.8" height="8.8"/><rect x="557.60" y="785.60" width="8.8" height="8.8"/><rect x="584.20" y="794.40" width="8.8" height="8.8"/><rect x="610.80" y="811.90" width="8.8" height="8.8"/><rect x="637.40" y="808.30" width="8.8" height="8.8"/><rect x="664.00" y="814.80" width="8.8" height="8.8"/></g><g stroke="#00ff00" stroke-width="1.85" stroke-linecap="round"><line x1="121.47" y1="817.75" x2="124.73" y2="818.75"/><line x1="148.59" y1="821.70" x2="150.81" y2="821.60"/><line x1="175.12" y1="819.63" x2="177.48" y2="819.37"/><line x1="201.73" y1="816.72" x2="204.07" y2="816.48"/><line x1="228.40" y1="815.20" x2="230.60" y2="815.20"/><line x1="251.56" y1="806.71" x2="260.64" y2="797.89"/><line x1="278.24" y1="797.81" x2="287.16" y2="806.29"/><line x1="308.20" y1="814.70" x2="310.40" y2="814.70"/><line x1="334.76" y1="813.74" x2="337.04" y2="813.56"/><line x1="354.63" y1="801.68" x2="370.37" y2="770.02"/><line x1="385.64" y1="766.31" x2="392.56" y2="771.39"/><line x1="414.53" y1="779.92" x2="416.87" y2="780.18"/><line x1="440.67" y1="777.95" x2="443.93" y2="776.95"/><line x1="467.66" y1="771.54" x2="470.14" y2="771.16"/><line x1="492.71" y1="775.50" x2="498.29" y2="778.80"/><line x1="520.97" y1="784.13" x2="523.23" y2="783.97"/><line x1="546.51" y1="788.15" x2="550.89" y2="790.15"/><line x1="571.77" y1="802.51" x2="578.83" y2="807.79"/><line x1="600.46" y1="817.95" x2="603.34" y2="818.65"/><line x1="627.40" y1="821.45" x2="629.60" y2="821.45"/><line x1="650.35" y1="812.69" x2="659.85" y2="803.01"/></g><g fill="#00ff00"><rect x="105.40" y="809.80" width="8.8" height="8.8"/><rect x="132.00" y="817.90" width="8.8" height="8.8"/><rect x="158.60" y="816.60" width="8.8" height="8.8"/><rect x="185.20" y="813.60" width="8.8" height="8.8"/><rect x="211.80" y="810.80" width="8.8" height="8.8"/><rect x="238.40" y="810.80" width="8.8" height="8.8"/><rect x="265.00" y="785.00" width="8.8" height="8.8"/><rect x="291.60" y="810.30" width="8.8" height="8.8"/><rect x="318.20" y="810.30" width="8.8" height="8.8"/><rect x="344.80" y="808.20" width="8.8" height="8.8"/><rect x="371.40" y="754.70" width="8.8" height="8.8"/><rect x="398.00" y="774.20" width="8.8" height="8.8"/><rect x="424.60" y="777.10" width="8.8" height="8.8"/><rect x="451.20" y="769.00" width="8.8" height="8.8"/><rect x="477.80" y="764.90" width="8.8" height="8.8"/><rect x="504.40" y="780.60" width="8.8" height="8.8"/><rect x="531.00" y="778.70" width="8.8" height="8.8"/><rect x="557.60" y="790.80" width="8.8" height="8.8"/><rect x="584.20" y="810.70" width="8.8" height="8.8"/><rect x="610.80" y="817.10" width="8.8" height="8.8"/><rect x="637.40" y="817.00" width="8.8" height="8.8"/><rect x="664.00" y="789.90" width="8.8" height="8.8"/></g><g stroke="#0000ff" stroke-width="1.85" stroke-linecap="round"><line x1="121.47" y1="800.35" x2="124.73" y2="799.35"/><line x1="145.12" y1="804.33" x2="154.28" y2="813.27"/><line x1="175.10" y1="820.21" x2="177.50" y2="819.89"/><line x1="201.79" y1="817.89" x2="204.01" y2="817.81"/><line x1="228.18" y1="819.70" x2="230.82" y2="820.20"/><line x1="251.48" y1="813.92" x2="260.72" y2="804.78"/><line x1="277.39" y1="786.98" x2="288.01" y2="774.72"/><line x1="307.14" y1="770.48" x2="311.46" y2="772.42"/><line x1="330.99" y1="768.54" x2="340.81" y2="758.16"/><line x1="354.37" y1="738.25" x2="370.63" y2="703.45"/><line x1="380.34" y1="703.73" x2="397.86" y2="747.47"/><line x1="409.59" y1="768.66" x2="421.81" y2="785.44"/><line x1="440.57" y1="791.43" x2="444.03" y2="790.27"/><line x1="467.70" y1="784.81" x2="470.10" y2="784.49"/><line x1="493.24" y1="777.71" x2="497.76" y2="775.59"/><line x1="520.99" y1="769.90" x2="523.21" y2="769.80"/><line x1="545.33" y1="776.39" x2="552.07" y2="781.21"/><line x1="571.02" y1="796.51" x2="579.58" y2="804.29"/><line x1="600.14" y1="816.45" x2="603.66" y2="817.65"/><line x1="626.91" y1="818.17" x2="630.09" y2="817.23"/><line x1="653.04" y1="809.07" x2="657.16" y2="807.33"/></g><g fill="#0000ff"><rect x="105.40" y="799.50" width="8.8" height="8.8"/><rect x="132.00" y="791.40" width="8.8" height="8.8"/><rect x="158.60" y="817.40" width="8.8" height="8.8"/><rect x="185.20" y="813.90" width="8.8" height="8.8"/><rect x="211.80" y="813.00" width="8.8" height="8.8"/><rect x="238.40" y="818.10" width="8.8" height="8.8"/><rect x="265.00" y="791.80" width="8.8" height="8.8"/><rect x="291.60" y="761.10" width="8.8" height="8.8"/><rect x="318.20" y="773.00" width="8.8" height="8.8"/><rect x="344.80" y="744.90" width="8.8" height="8.8"/><rect x="371.40" y="688.00" width="8.8" height="8.8"/><rect x="398.00" y="754.40" width="8.8" height="8.8"/><rect x="424.60" y="790.90" width="8.8" height="8.8"/><rect x="451.20" y="782.00" width="8.8" height="8.8"/><rect x="477.80" y="778.50" width="8.8" height="8.8"/><rect x="504.40" y="766.00" width="8.8" height="8.8"/><rect x="531.00" y="764.90" width="8.8" height="8.8"/><rect x="557.60" y="783.90" width="8.8" height="8.8"/><rect x="584.20" y="808.10" width="8.8" height="8.8"/><rect x="610.80" y="817.20" width="8.8" height="8.8"/><rect x="637.40" y="809.40" width="8.8" height="8.8"/><rect x="664.00" y="798.20" width="8.8" height="8.8"/></g></g>
<line x1="60" y1="258.3" x2="685" y2="258.3" stroke="#000" stroke-width="2.4" stroke-dasharray="11 8.77" />
<line x1="60" y1="729.2" x2="685" y2="729.2" stroke="#000" stroke-width="2.4" stroke-dasharray="11 8.77" />
<g stroke="#000" stroke-width="1.3" fill="none" stroke-linecap="square">
<line x1="60.75" y1="15.3" x2="60.75" y2="364.0" />
<line x1="49" y1="364.00" x2="60.75" y2="364.00" />
<line x1="49" y1="294.26" x2="60.75" y2="294.26" />
<line x1="49" y1="224.52" x2="60.75" y2="224.52" />
<line x1="49" y1="154.78" x2="60.75" y2="154.78" />
<line x1="49" y1="85.04" x2="60.75" y2="85.04" />
<line x1="49" y1="15.30" x2="60.75" y2="15.30" />
<line x1="84.0" y1="377.7" x2="615.20" y2="377.7" />
<line x1="84.00" y1="377.7" x2="84.00" y2="390.20" />
<line x1="190.24" y1="377.7" x2="190.24" y2="390.20" />
<line x1="296.48" y1="377.7" x2="296.48" y2="390.20" />
<line x1="402.72" y1="377.7" x2="402.72" y2="390.20" />
<line x1="508.96" y1="377.7" x2="508.96" y2="390.20" />
<line x1="615.20" y1="377.7" x2="615.20" y2="390.20" />
<line x1="60.6" y1="486.0" x2="60.6" y2="833.5" />
<line x1="49" y1="833.50" x2="60.6" y2="833.50" />
<line x1="49" y1="764.00" x2="60.6" y2="764.00" />
<line x1="49" y1="694.50" x2="60.6" y2="694.50" />
<line x1="49" y1="625.00" x2="60.6" y2="625.00" />
<line x1="49" y1="555.50" x2="60.6" y2="555.50" />
<line x1="49" y1="486.00" x2="60.6" y2="486.00" />
<line x1="83.8" y1="848.1" x2="615.00" y2="848.1" />
<line x1="83.80" y1="848.1" x2="83.80" y2="859.40" />
<line x1="190.04" y1="848.1" x2="190.04" y2="859.40" />
<line x1="296.28" y1="848.1" x2="296.28" y2="859.40" />
<line x1="402.52" y1="848.1" x2="402.52" y2="859.40" />
<line x1="508.76" y1="848.1" x2="508.76" y2="859.40" />
<line x1="615.00" y1="848.1" x2="615.00" y2="859.40" />
</g>
<g font-family='"Liberation Sans", sans-serif' fill="#000">
<text x="0" y="5.37" text-anchor="end" font-size="15" transform="translate(41.6,364.40) scale(1,1.22)">0</text>
<text x="0" y="5.37" text-anchor="end" font-size="15" transform="translate(41.6,294.66) scale(1,1.22)">2</text>
<text x="0" y="5.37" text-anchor="end" font-size="15" transform="translate(41.6,224.92) scale(1,1.22)">4</text>
<text x="0" y="5.37" text-anchor="end" font-size="15" transform="translate(41.6,155.18) scale(1,1.22)">6</text>
<text x="0" y="5.37" text-anchor="end" font-size="15" transform="translate(41.6,85.44) scale(1,1.22)">8</text>
<text x="0" y="5.37" text-anchor="end" font-size="15" transform="translate(41.6,15.70) scale(1,1.22)">10</text>
<text x="0" y="0" text-anchor="middle" dominant-baseline="central" font-size="15" transform="translate(91.40,405.30) rotate(-70)">147.3.2</text>
<text x="0" y="0" text-anchor="middle" dominant-baseline="central" font-size="15" transform="translate(197.64,405.30) rotate(-70)">147.8</text>
<text x="0" y="0" text-anchor="middle" dominant-baseline="central" font-size="15" transform="translate(303.88,405.30) rotate(-70)">148.3</text>
<text x="0" y="0" text-anchor="middle" dominant-baseline="central" font-size="15" transform="translate(410.12,405.30) rotate(-70)">148.8</text>
<text x="0" y="0" text-anchor="middle" dominant-baseline="central" font-size="15" transform="translate(516.36,405.30) rotate(-70)">149.3</text>
<text x="0" y="0" text-anchor="middle" dominant-baseline="central" font-size="15" transform="translate(622.60,405.30) rotate(-70)">149.8</text>
<text x="375.3" y="453.6" text-anchor="middle" font-size="19.4">position in Mbp</text>
<text x="0" y="0" text-anchor="middle" font-size="19.4" transform="translate(17,194.4) rotate(-90)">-log10(P.value)</text>
<text x="0" y="5.37" text-anchor="end" font-size="15" transform="translate(41.6,833.90) scale(1,1.22)">0</text>
<text x="0" y="5.37" text-anchor="end" font-size="15" transform="translate(41.6,764.40) scale(1,1.22)">2</text>
<text x="0" y="5.37" text-anchor="end" font-size="15" transform="translate(41.6,694.90) scale(1,1.22)">4</text>
<text x="0" y="5.37" text-anchor="end" font-size="15" transform="translate(41.6,625.40) scale(1,1.22)">6</text>
<text x="0" y="5.37" text-anchor="end" font-size="15" transform="translate(41.6,555.90) scale(1,1.22)">8</text>
<text x="0" y="5.37" text-anchor="end" font-size="15" transform="translate(41.6,486.40) scale(1,1.22)">10</text>
<text x="0" y="0" text-anchor="middle" dominant-baseline="central" font-size="15" transform="translate(91.20,875.70) rotate(-70)">147.3.2</text>
<text x="0" y="0" text-anchor="middle" dominant-baseline="central" font-size="15" transform="translate(197.44,875.70) rotate(-70)">147.8</text>
<text x="0" y="0" text-anchor="middle" dominant-baseline="central" font-size="15" transform="translate(303.68,875.70) rotate(-70)">148.3</text>
<text x="0" y="0" text-anchor="middle" dominant-baseline="central" font-size="15" transform="translate(409.92,875.70) rotate(-70)">148.8</text>
<text x="0" y="0" text-anchor="middle" dominant-baseline="central" font-size="15" transform="translate(516.16,875.70) rotate(-70)">149.3</text>
<text x="0" y="0" text-anchor="middle" dominant-baseline="central" font-size="15" transform="translate(622.40,875.70) rotate(-70)">149.8</text>
<text x="372.7" y="922.2" text-anchor="middle" font-size="19.4">position in Mbp at window midpoint</text>
<text x="0" y="0" text-anchor="middle" font-size="19.4" transform="translate(17,662.8) rotate(-90)">-log10(P.value)</text>
</g>
<g font-family='"Liberation Sans", sans-serif' fill="#000">
<rect x="60.6" y="1.6" width="95.3" height="66.2" fill="#fff" stroke="#000" stroke-width="1.3"/>
<circle cx="73" cy="19.3" r="3.2" fill="#ff0000"/>
<text x="0" y="4.5" font-size="12.6" transform="translate(85.2,19.90) scale(1,1.12)">50k SNPs</text>
<circle cx="73" cy="35.4" r="3.2" fill="#00ff00"/>
<text x="0" y="4.5" font-size="12.6" transform="translate(85.2,36.50) scale(1,1.12)">600k SNPs</text>
<circle cx="73" cy="52.2" r="3.2" fill="#f5deb3"/>
<text x="0" y="4.5" font-size="12.6" transform="translate(85.2,53.00) scale(1,1.12)">WGS</text>
<rect x="60.3" y="472.6" width="112.7" height="65.1" fill="#fff" stroke="#000" stroke-width="1.3"/>
<line x1="63.5" y1="488.1" x2="89.5" y2="488.1" stroke="#ff0000" stroke-width="2.2"/>
<rect x="73.30000000000001" y="485.0" width="6.2" height="6.2" fill="#ff0000"/>
<text x="0" y="4.5" font-size="12.6" transform="translate(101.5,490.90) scale(1,1.12)">50k SNPs</text>
<line x1="63.5" y1="504.8" x2="89.5" y2="504.8" stroke="#00ff00" stroke-width="2.2"/>
<rect x="73.30000000000001" y="501.7" width="6.2" height="6.2" fill="#00ff00"/>
<text x="0" y="4.5" font-size="12.6" transform="translate(101.5,506.90) scale(1,1.12)">600k SNPs</text>
<line x1="63.5" y1="521.4" x2="89.5" y2="521.4" stroke="#0000ff" stroke-width="2.2"/>
<rect x="73.30000000000001" y="518.3" width="6.2" height="6.2" fill="#0000ff"/>
<text x="0" y="4.5" font-size="12.6" transform="translate(101.5,523.50) scale(1,1.12)">WGS</text>
</g>
</svg>
</body></html>
